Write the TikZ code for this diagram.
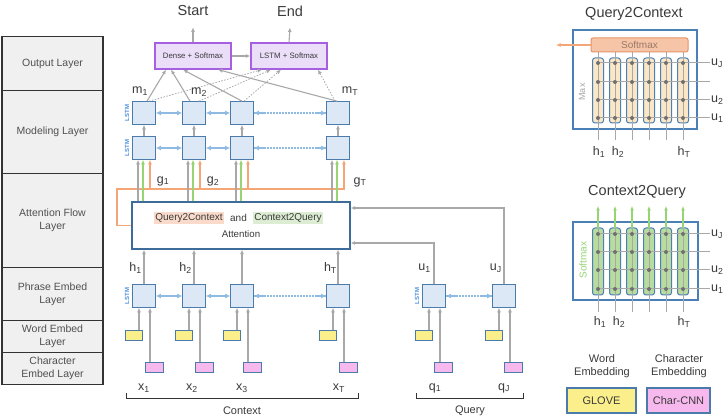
\documentclass[tikz,border=0pt]{standalone}
\usepackage{fontspec}
\setmainfont{Liberation Sans}
\usetikzlibrary{arrows.meta,calc}
\definecolor{lstmfill}{HTML}{DCE8F6}
\definecolor{lstmdraw}{HTML}{4A7BAA}
\definecolor{arrgray}{HTML}{A8A8A8}
\definecolor{txt}{HTML}{3A3A3A}
\definecolor{lblue}{HTML}{8FBBE3}
\definecolor{lstmtxt}{HTML}{4A90D9}
\definecolor{glove}{HTML}{FBEF8C}
\definecolor{charc}{HTML}{F7B8EE}
\definecolor{outfill}{HTML}{EADEF8}
\definecolor{outdraw}{HTML}{A55FE0}
\definecolor{oline}{HTML}{F5A676}
\definecolor{gline}{HTML}{96D474}
\definecolor{ohl}{HTML}{FADBCB}
\definecolor{ghl}{HTML}{DDEDD3}
\definecolor{layerfill}{HTML}{F0F0F0}
\definecolor{layerdraw}{HTML}{333333}
\definecolor{layertxt}{HTML}{505050}
\definecolor{tanfill}{HTML}{FBE7C5}
\definecolor{greenfill}{HTML}{B8DC9E}
\definecolor{smfill}{HTML}{F6C4A6}
\definecolor{smdraw}{HTML}{E8936A}
\definecolor{smtxt}{HTML}{9A7A6A}
\definecolor{paneldraw}{HTML}{4A80B8}
\definecolor{attdraw}{HTML}{3E6C9A}
\definecolor{gridc}{HTML}{A8A8A8}
\definecolor{dotc}{HTML}{707070}
\newcommand{\fsz}[2]{\fontsize{#1}{#2}\selectfont}
\tikzset{
  lstm/.style={draw=lstmdraw, fill=lstmfill, line width=1.2pt, minimum size=22.5pt, inner sep=0pt},
  glovebox/.style={draw=lstmdraw, fill=glove, line width=1pt, minimum width=17pt, minimum height=10pt, inner sep=0pt},
  charbox/.style={draw=lstmdraw, fill=charc, line width=1pt, minimum width=18pt, minimum height=10pt, inner sep=0pt},
  garr/.style={draw=arrgray, line width=1.1pt, -{Latex[length=4.5pt,width=4pt]}},
  grarr/.style={draw=gline, line width=1.1pt, -{Latex[length=4.5pt,width=4pt]}},
  orarr/.style={draw=oline, line width=1.1pt, -{Latex[length=4.5pt,width=4pt]}},
  biarr/.style={draw=lblue, line width=1.1pt, {Latex[length=5pt,width=5pt]}-{Latex[length=5pt,width=5pt]}},
  dotbi/.style={biarr, dash pattern=on 1.2pt off 1.8pt},
  dasharr/.style={draw=arrgray, line width=0.8pt, dash pattern=on 1.5pt off 1.5pt, -{Latex[length=4.5pt,width=4pt]}},
  var/.style={text=txt, font=\fsz{12.5}{14}, inner sep=0pt},
  layer/.style={draw=layerdraw, fill=layerfill, line width=1.2pt, minimum width=101pt, text=layertxt, font=\fsz{10.5}{13}, align=center, inner sep=0pt, anchor=north},
  lstmlbl/.style={rotate=90, text=lstmtxt, font=\bfseries\fsz{6}{6}, inner sep=0pt},
  outbox/.style={draw=outdraw, fill=outfill, line width=1.3pt, minimum width=76pt, minimum height=26pt, inner sep=0pt, font=\fsz{7.8}{9}, text=txt},
  panel/.style={draw=paneldraw, line width=1.3pt, fill=white, inner sep=0pt},
  colq/.style={draw=paneldraw, fill=tanfill, rounded corners=2.5pt, line width=1pt, minimum width=11pt, minimum height=65pt, inner sep=0pt},
  colc/.style={draw=paneldraw, fill=greenfill, rounded corners=2.5pt, line width=1pt, minimum width=11pt, minimum height=67pt, inner sep=0pt},
  gridl/.style={draw=gridc, line width=1pt},
  bracket/.style={draw=layerdraw, line width=1pt},
  ttl/.style={text=txt, font=\fsz{14.5}{16}, inner sep=0pt},
  mid/.style={text=txt, font=\fsz{11}{13}, inner sep=0pt, align=center},
}
\begin{document}
\begin{tikzpicture}[x=1pt,y=-1pt]
\useasboundingbox (0,0) rectangle (726,419);
% ---------- layer column
\node[layer, minimum height=54pt] (L1) at (52.5,36) {Output Layer};
\node[layer, minimum height=83pt] (L2) at (52.5,90) {Modeling Layer};
\node[layer, minimum height=94pt] (L3) at (52.5,173) {Attention Flow\\Layer};
\node[layer, minimum height=53pt] (L4) at (52.5,267) {Phrase Embed\\Layer};
\node[layer, minimum height=32pt] (L5) at (52.5,320) {Word Embed\\Layer};
\node[layer, minimum height=32pt] (L6) at (52.5,352) {Character\\Embed Layer};
% ---------- attention box
\node[draw=attdraw, line width=1.4pt, fill=white, minimum width=218pt, minimum height=47pt, inner sep=0pt] (att) at (241,225.5) {};
\node[fill=ohl, text=txt, font=\fsz{10}{12}, inner sep=1.5pt] (q2ct) at (189,218) {Query2Context};
\node[text=txt, font=\fsz{10}{12}, inner sep=0pt] (andt) at (238.5,218) {and};
\node[fill=ghl, text=txt, font=\fsz{10}{12}, inner sep=1.5pt] (c2qt) at (288,218) {Context2Query};
\node[text=txt, font=\fsz{9.7}{12}, inner sep=0pt] (attt) at (241,234) {Attention};
% ---------- orange loop
\coordinate (oL) at (117,189);
\coordinate (oR) at (345,189);
\draw[draw=oline, line width=1.3pt] (att.west) -| (oL) -- (oR);
% ---------- context columns
\foreach \n/\x in {1/144,2/194,3/242,4/338} {
  \node[lstm] (m\n) at (\x,113) {};
  \node[lstm] (r\n) at (\x,148) {};
  \node[lstm] (p\n) at (\x,296) {};
  \node[glovebox] (w\n) at (\x-10,336) {};
  \node[charbox] (c\n) at (\x+10,368) {};
}
\foreach \n in {1,2,3,4} {
  \draw[garr] ([xshift=5pt]w\n.north) -- ([xshift=-5pt]p\n.south);
  \draw[garr] ([xshift=-4pt]c\n.north) -- ([xshift=6pt]p\n.south);
  \draw[garr] (p\n.north) -- (p\n.north |- att.south);
  \draw[garr] ([xshift=-6pt]r\n.south |- att.north) -- ([xshift=-6pt]r\n.south);
  \draw[grarr] ([xshift=-1pt]r\n.south |- att.north) -- ([xshift=-1pt]r\n.south);
  \draw[orarr] ([xshift=6pt]r\n.south |- oR) -- ([xshift=6pt]r\n.south);
  \draw[garr] (r\n) -- (m\n);
}
% horizontal bidirectional
\draw[biarr] (m1) -- (m2); \draw[biarr] (m2) -- (m3); \draw[dotbi] (m3) -- (m4);
\draw[biarr] (r1) -- (r2); \draw[biarr] (r2) -- (r3); \draw[dotbi] (r3) -- (r4);
\draw[biarr] (p1) -- (p2); \draw[biarr] (p2) -- (p3); \draw[dotbi] (p3) -- (p4);
\foreach \a/\b in {m3/m4,r3/r4,p3/p4} {
  \draw[draw=lblue, line width=1.1pt] (\a.east) -- ++(10,0);
  \draw[draw=lblue, line width=1.1pt] (\b.west) -- ++(-10,0);
}
% query columns
\foreach \n/\x in {1/434,2/504} {
  \node[lstm] (qp\n) at (\x,296) {};
  \node[glovebox] (qw\n) at (\x-10,336) {};
  \node[charbox] (qc\n) at (\x+9,368) {};
  \draw[garr] ([xshift=5pt]qw\n.north) -- ([xshift=-5pt]qp\n.south);
  \draw[garr] ([xshift=-3pt]qc\n.north) -- ([xshift=6pt]qp\n.south);
}
\draw[dotbi] (qp1) -- (qp2);
\draw[draw=lblue, line width=1.1pt] (qp1.east) -- ++(10,0);
\draw[draw=lblue, line width=1.1pt] (qp2.west) -- ++(-10,0);
\draw[garr] (qp1.north) |- ([yshift=-17.5pt]att.east);
\draw[garr] (qp2.north) |- ([yshift=17.5pt]att.east);
% LSTM labels
\node[lstmlbl] (lm) at (127,113) {LSTM};
\node[lstmlbl] (lr) at (127,148) {LSTM};
\node[lstmlbl] (lp) at (127,296) {LSTM};
\node[lstmlbl] (lq) at (417,296) {LSTM};
% ---------- output layer
\node[outbox] (dense) at (193,56) {Dense + Softmax};
\node[outbox] (lsm) at (289,56) {LSTM + Softmax};
\node[ttl] (start) at (193,11) {Start};
\node[ttl] (end) at (290,11) {End};
\draw[garr] (dense.north) -- ([yshift=-11pt]start.south);
\draw[garr] (lsm.north) -- ([yshift=-11pt]end.south);
\draw[garr] (dense) -- (lsm);
\draw[garr] ([xshift=3pt]m1.north) -- ([xshift=-27pt]dense.south);
\draw[garr] ([xshift=-4pt]m2.north) -- ([xshift=-22pt]dense.south);
\draw[garr] (m3.north) -- ([xshift=-10pt]dense.south);
\draw[garr] ([xshift=-1pt]m4.north) -- ([xshift=25pt]dense.south);
\draw[dasharr] ([xshift=5pt]m1.north) -- ([xshift=-27pt]lsm.south);
\draw[dasharr] ([xshift=5pt]m2.north) -- ([xshift=-18pt]lsm.south);
\draw[dasharr] ([xshift=2pt]m3.north) -- ([xshift=-8pt]lsm.south);
\draw[dasharr] ([xshift=-3pt]m4.north) -- ([xshift=29pt]lsm.south);
% ---------- variable labels
\node[var] (lm1) at (140,91) {m\textsubscript{1}};
\node[var] (lm2) at (199,92) {m\textsubscript{2}};
\node[var] (lmT) at (350,91) {m\textsubscript{T}};
\node[var] (lg1) at (163,181) {g\textsubscript{1}};
\node[var] (lg2) at (213,181) {g\textsubscript{2}};
\node[var] (lgT) at (360,182) {g\textsubscript{T}};
\node[var, anchor=east] (lh1) at (142,268) {h\textsubscript{1}};
\node[var, anchor=east] (lh2) at (192,268) {h\textsubscript{2}};
\node[var, anchor=east] (lhT) at (337,268) {h\textsubscript{T}};
\node[var, anchor=east] (lu1) at (431,268) {u\textsubscript{1}};
\node[var, anchor=east] (luJ) at (502,268) {u\textsubscript{J}};
\node[var] (lx1) at (144,388) {x\textsubscript{1}};
\node[var] (lx2) at (192,388) {x\textsubscript{2}};
\node[var] (lx3) at (242,388) {x\textsubscript{3}};
\node[var] (lxT) at (339,388) {x\textsubscript{T}};
\node[var] (lq1) at (435,388) {q\textsubscript{1}};
\node[var] (lqJ) at (504,388) {q\textsubscript{J}};
% brackets
\draw[bracket] (126,393) -- (126,399) -- (358,399) -- (358,393);
\node[mid] (ctx) at (242,411) {Context};
\draw[bracket] (416,393) -- (416,399) -- (523,399) -- (523,393);
\node[mid] (qry) at (470,411) {Query};
% ---------- Query2Context panel
\node[ttl, font=\fsz{14.5}{16}] (q2ctitle) at (634,14) {Query2Context};
\node[panel, minimum width=124pt, minimum height=99pt] (q2cbox) at (635,79.5) {};
\node[draw=smdraw, fill=smfill, rounded corners=2pt, line width=1pt, minimum width=97pt, minimum height=14pt, inner sep=0pt, text=smtxt, font=\fsz{10}{12}] (sm) at (639.5,45) {Softmax};
\coordinate (q2cout) at (556,45);
\draw[orarr] (sm.west) -- (q2cout);
\foreach \x [count=\i] in {598,615,632,649,666,683} {
  \node[colq] (qcol\i) at (\x,90.5) {};
}
\foreach \x in {598,615,632,649,666,683} \draw[gridl] (\x,52) -- (\x,140);
\foreach \y in {63,82,100,118} \draw[gridl] (598,\y) -- (710,\y);
\foreach \x in {598,615,632,649,666,683} \foreach \y in {63,82,100,118} \fill[dotc] (\x,\y) circle (2);
\node[rotate=90, text=gridc, font=\fsz{9}{10}, inner sep=0pt] (maxl) at (582,92) {Max};
\node[var, anchor=west] (qu1) at (711,63) {u\textsubscript{J}};
\node[var, anchor=west] (qu2) at (711,100) {u\textsubscript{2}};
\node[var, anchor=west] (qu3) at (711,118) {u\textsubscript{1}};
\node[var] (qh1) at (599,152) {h\textsubscript{1}};
\node[var] (qh2) at (618,152) {h\textsubscript{2}};
\node[var] (qhT) at (684,152) {h\textsubscript{T}};
% ---------- Context2Query panel
\node[ttl, font=\fsz{14.5}{16}] (c2qtitle) at (637,192) {Context2Query};
\node[panel, minimum width=125pt, minimum height=78pt] (c2qbox) at (635.5,261) {};
\foreach \x [count=\i] in {598,615,632,649,666,683} {
  \node[colc] (ccol\i) at (\x,261.5) {};
}
\foreach \x in {598,615,632,649,666,683} {
  \draw[gridl] (\x,229) -- (\x,312);
  \draw[grarr] (\x,228) -- (\x,206);
}
\foreach \y in {234,252,270,289} \draw[gridl] (598,\y) -- (710,\y);
\foreach \x in {598,615,632,649,666,683} \foreach \y in {234,252,270,289} \fill[dotc] (\x,\y) circle (2);
\node[rotate=90, text=gline, font=\fsz{10}{11}, inner sep=0pt] (sml) at (583,260) {Softmax};
\node[var, anchor=west] (cu1) at (711,234) {u\textsubscript{J}};
\node[var, anchor=west] (cu2) at (711,270) {u\textsubscript{2}};
\node[var, anchor=west] (cu3) at (711,289) {u\textsubscript{1}};
\node[var] (ch1) at (600,322) {h\textsubscript{1}};
\node[var] (ch2) at (619,322) {h\textsubscript{2}};
\node[var] (chT) at (684,322) {h\textsubscript{T}};
% ---------- legend
\node[mid] (we) at (602,366) {Word\\Embedding};
\node[mid] (ce) at (679,366) {Character\\Embedding};
\node[draw=lstmdraw, fill=glove, line width=1.2pt, minimum width=69pt, minimum height=25pt, inner sep=0pt, text=txt, font=\fsz{11}{13}] (gl) at (601.5,400.5) {GLOVE};
\node[draw=lstmdraw, fill=charc, line width=1.2pt, minimum width=63pt, minimum height=25pt, inner sep=0pt, text=txt, font=\fsz{11}{13}] (cc) at (678.5,400.5) {Char-CNN};
\end{tikzpicture}
\end{document}
